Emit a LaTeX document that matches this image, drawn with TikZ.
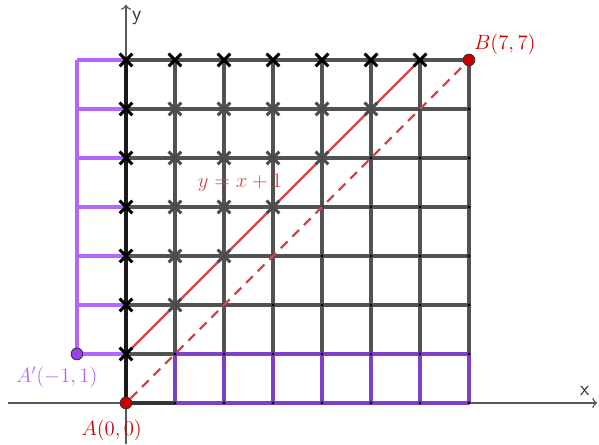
\documentclass[tikz,border=0pt]{standalone}
\usepackage{amsmath,amssymb}
\usetikzlibrary{arrows.meta}
\definecolor{linered}{HTML}{D64545}
\definecolor{ptred}{HTML}{CC0000}
\definecolor{lightviolet}{HTML}{B266FF}
\definecolor{ptviolet}{HTML}{9B3CF0}
\definecolor{darkviolet}{HTML}{7F3FC6}
\tikzset{
	axisline/.style={black!65, line width=0.7pt, -{To[length=3pt,width=6pt]}},
	gridline/.style={black!68, line width=1.8pt},
	cross/.style={line width=1.7pt},
	latpt/.style={circle, fill=black, inner sep=0pt, minimum size=2pt},
	bigpt/.style={circle, draw=black!80, line width=0.5pt, inner sep=0pt, minimum size=6.8pt},
}

\begin{document}
\begin{tikzpicture}[every node/.style={font=\large}]
	\useasboundingbox (-2.571,-0.837) rectangle (9.653,8.224);
	% axes
	\coordinate (xs) at (-2.41,0);
	\coordinate (xe) at (9.62,0);
	\coordinate (ys) at (0,-0.84);
	\coordinate (ye) at (0,8.13);
	\draw[axisline] (xs) -- (xe);
	\draw[axisline] (ys) -- (ye);
	\node[black!80, font=\large\sffamily] (xlab) at (9.36,0.25) {x};
	\node[black!80, font=\large\sffamily] (ylab) at (0.22,7.86) {y};
	% lattice
	\foreach \k in {1,...,7} {
		\draw[gridline] (\k,1) -- (\k,7);
	}
	\foreach \k in {2,...,7} {
		\draw[gridline] (0,\k) -- (7,\k);
	}
	\draw[gridline] (0,1) -- (1,1);
	\draw[gridline, black!80] (0,0) -- (1,0);
	\draw[gridline, black!90] (0,0) -- (0,7);
	% reflected paths
	\foreach \k in {1,...,7} {
		\draw[lightviolet, line width=1.8pt] (-1,\k) -- (0,\k);
		\draw[darkviolet, line width=1.8pt] (\k,0) -- (\k,1);
	}
	\draw[lightviolet, line width=1.8pt] (-1,1) -- (-1,7);
	\draw[darkviolet, line width=1.8pt] (1,0) -- (7,0);
	\draw[darkviolet, line width=1.8pt] (1,1) -- (7,1);
	\foreach \x in {1,...,7} {
		\foreach \y in {0,...,7} {
			\node[latpt] at (\x,\y) {};
		}
	}
	% lines
	\draw[linered, line width=1.4pt] (0,1) -- (6,7);
	\node[linered] (eq) at (2.33,4.49) {$y=x+1$};
	% crosses
	\foreach \y in {2,...,6} {
		\pgfmathtruncatemacro\last{\y-1}
		\foreach \x in {1,...,\last} {
			\draw[cross, black!70] (\x,\y) ++(-0.13,-0.13) -- ++(0.26,0.26) ++(-0.26,0) -- ++(0.26,-0.26);
		}
	}
	\foreach \x in {0,...,6} {
		\draw[cross] (\x,7) ++(-0.13,-0.13) -- ++(0.26,0.26) ++(-0.26,0) -- ++(0.26,-0.26);
	}
	\foreach \y in {1,...,6} {
		\draw[cross] (0,\y) ++(-0.13,-0.13) -- ++(0.26,0.26) ++(-0.26,0) -- ++(0.26,-0.26);
	}
	% points
	\node[bigpt, fill=ptred] (A) at (0,0) {};
	\node[bigpt, fill=ptred] (B) at (7,7) {};
	\node[bigpt, fill=ptviolet] (Ap) at (-1,1) {};
	\draw[linered, line width=1.4pt, dash pattern=on 5.5pt off 4pt] (A) -- (B);
	\node[ptred] (Alab) at (-0.29,-0.56) {$A(0,0)$};
	\node[ptred] (Blab) at (7.73,7.31) {$B(7,7)$};
	\node[lightviolet] (Aplab) at (-1.41,0.53) {$A'(-1,1)$};
\end{tikzpicture}
\end{document}
